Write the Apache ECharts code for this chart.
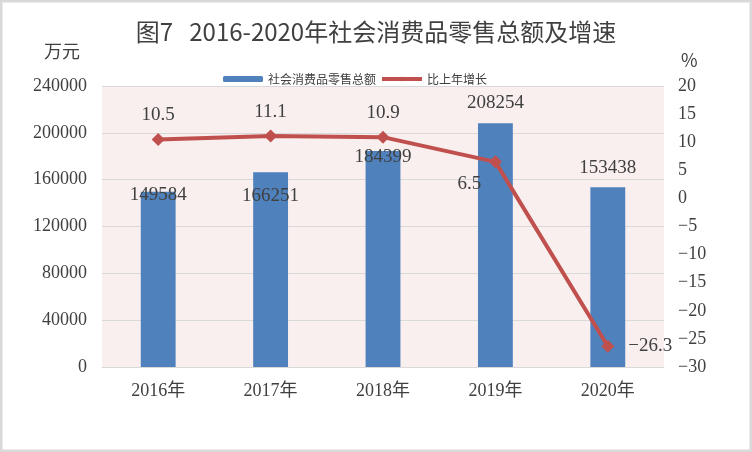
<!DOCTYPE html>
<html lang="zh">
<head>
	<meta charset="UTF-8">
	<title>图7 2016-2020年社会消费品零售总额及增速</title>
	<style>
		*{
			margin: 0;
			padding: 0;
		}
		body{
			background: #fff;
		}
		.box{
			width: 752px;
			height: 452px;
		}
	</style>
	<script src="https://cdn.jsdelivr.net/npm/echarts@6/dist/echarts.min.js"></script>
</head>
<body>
	<div class="box"></div>
	<script>
		// 数据
		var years = ['2016年', '2017年', '2018年', '2019年', '2020年'];
		var salesTotal = [149584, 166251, 184399, 208254, 153438];
		var growthRate = [10.5, 11.1, 10.9, 6.5, -26.3];

		// 标签位置（照原图手动摆放）
		var barLabelOffset = [[0, 18], [0, 38], [0, 20], [0, -6], [0, -5]];
		var lineLabelPos = ['top', 'top', 'top', 'bottom', 'right'];
		var lineLabelOffset = [[0, 6], [0, 6], [0, 6], [-26, -8], [0, 0]];

		var serif = 'Liberation Serif, "Noto Sans CJK SC", serif';
		var textColor = '#404040';

		function minus(v) {
			return String(v).replace('-', '\u2212');
		}

		var chart = echarts.init(document.querySelector('.box'));

		var barData = salesTotal.map((v, i) => ({
			value: v,
			label: { offset: barLabelOffset[i] }
		}));
		var lineData = growthRate.map((v, i) => ({
			value: v,
			label: { position: lineLabelPos[i], offset: lineLabelOffset[i] }
		}));

		var option = {
			animation: false,
			title: {
				text: '图7   2016-2020年社会消费品零售总额及增速',
				left: 'center',
				top: 15,
				textStyle: {
					fontFamily: '"Noto Sans CJK SC", sans-serif',
					fontSize: 24,
					fontWeight: 'normal',
					color: textColor
				}
			},
			graphic: [
				{
					type: 'rect',
					silent: true,
					shape: { x: 1, y: 1, width: 750, height: 450 },
					style: { fill: 'none', stroke: '#d9d9d9', lineWidth: 3 }
				},
				{
					type: 'text',
					left: 44,
					top: 42,
					style: { text: '万元', font: '18px "Noto Sans CJK SC"', fill: textColor }
				},
				{
					type: 'text',
					left: 681,
					top: 51,
					style: { text: '%', font: '18px "Noto Sans CJK SC"', fill: textColor }
				}
			],
			legend: {
				top: 68,
				left: 218,
				itemWidth: 40,
				itemHeight: 6,
				itemGap: 4,
				lineStyle: { width: 4 },
				textStyle: {
					fontFamily: '"Noto Sans CJK SC", sans-serif',
					fontSize: 12,
					color: textColor
				},
				data: ['社会消费品零售总额', '比上年增长']
			},
			grid: {
				left: 102,
				right: 88,
				top: 86,
				bottom: 85,
				show: true,
				backgroundColor: '#f8efee',
				borderWidth: 0
			},
			xAxis: {
				type: 'category',
				data: years,
				axisTick: { show: false },
				axisLine: { lineStyle: { color: '#d9d9d9' } },
				axisLabel: {
					margin: 15,
					fontFamily: serif,
					fontSize: 18,
					color: textColor
				}
			},
			yAxis: [
				{
					type: 'value',
					min: 0,
					max: 240000,
					interval: 40000,
					axisLine: { show: false },
					axisTick: { show: false },
					splitLine: { lineStyle: { color: '#d9d9d9' } },
					axisLabel: {
						margin: 15,
						fontFamily: serif,
						fontSize: 18,
						color: textColor,
						formatter: v => String(v)
					}
				},
				{
					type: 'value',
					min: -30,
					max: 20,
					interval: 5,
					axisLine: { show: false },
					axisTick: { show: false },
					splitLine: { show: false },
					axisLabel: {
						margin: 14,
						fontFamily: serif,
						fontSize: 18,
						color: textColor,
						formatter: minus
					}
				}
			],
			series: [
				{
					name: '社会消费品零售总额',
					type: 'bar',
					barWidth: '31%',
					itemStyle: { color: '#4f81bd' },
					label: {
						show: true,
						position: 'top',
						fontFamily: serif,
						fontSize: 19,
						color: textColor
					},
					data: barData
				},
				{
					name: '比上年增长',
					type: 'line',
					yAxisIndex: 1,
					symbol: 'diamond',
					symbolSize: 13,
					itemStyle: { color: '#c0504d' },
					lineStyle: { color: '#c0504d', width: 4 },
					label: {
						show: true,
						distance: 14,
						fontFamily: serif,
						fontSize: 19,
						color: textColor,
						formatter: p => minus(p.value)
					},
					data: lineData
				}
			]
		};
		chart.setOption(option);
	</script>
</body>
</html>
